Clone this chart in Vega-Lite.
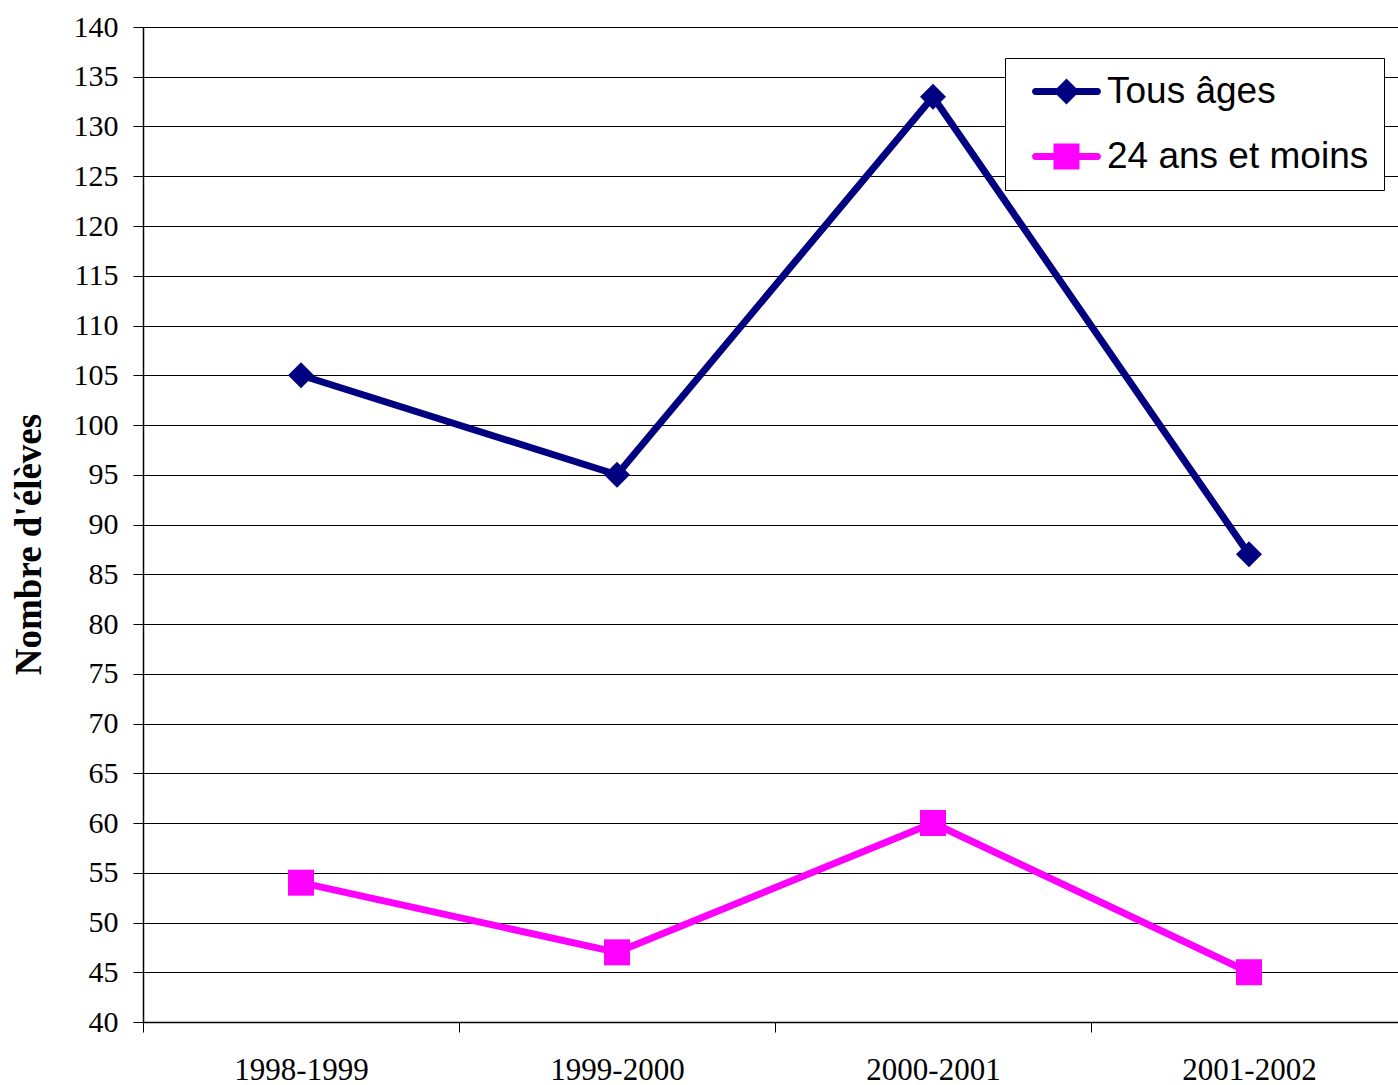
{
  "$schema": "https://vega.github.io/schema/vega-lite/v6.json",
  "autosize": {"type": "none"},
  "width": 1255,
  "height": 995,
  "padding": {"left": 143, "top": 27, "right": 0, "bottom": 63},
  "background": "white",
  "config": {"view": {"stroke": null}, "font": "Liberation Serif"},
  "data": {
    "values": [
      {"year": "1998-1999", "series": "Tous âges", "value": 105},
      {"year": "1999-2000", "series": "Tous âges", "value": 95},
      {"year": "2000-2001", "series": "Tous âges", "value": 133},
      {"year": "2001-2002", "series": "Tous âges", "value": 87},
      {"year": "1998-1999", "series": "24 ans et moins", "value": 54},
      {"year": "1999-2000", "series": "24 ans et moins", "value": 47},
      {"year": "2000-2001", "series": "24 ans et moins", "value": 60},
      {"year": "2001-2002", "series": "24 ans et moins", "value": 45}
    ]
  },
  "encoding": {
    "x": {
      "field": "year",
      "type": "nominal",
      "sort": null,
      "scale": {"type": "band", "paddingInner": 0, "paddingOuter": 0, "range": [0, 1264]},
      "axis": {
        "title": null,
        "labelAngle": 0,
        "labelFont": "Liberation Serif",
        "labelFontSize": 31,
        "labelColor": "black",
        "labelPadding": 23,
        "tickBand": "extent",
        "tickSize": 10,
        "tickColor": "black",
        "domainColor": "black",
        "domainWidth": 1.5,
        "grid": false
      }
    },
    "y": {
      "field": "value",
      "type": "quantitative",
      "scale": {"domain": [40, 140], "nice": false, "zero": false},
      "axis": {
        "title": "Nombre d'élèves",
        "titleFont": "Liberation Serif",
        "titleFontSize": 37,
        "titleFontWeight": "bold",
        "titleColor": "black",
        "titleAngle": -90,
        "titleBaseline": "alphabetic",
        "titleX": -103,
        "titleY": 517,
        "values": [40, 45, 50, 55, 60, 65, 70, 75, 80, 85, 90, 95, 100, 105, 110, 115, 120, 125, 130, 135, 140],
        "labelFont": "Liberation Serif",
        "labelFontSize": 30,
        "labelColor": "black",
        "labelPadding": 15,
        "tickSize": 10,
        "tickColor": "black",
        "domainColor": "black",
        "domainWidth": 1.5,
        "grid": true,
        "gridColor": "black",
        "gridWidth": 1
      }
    },
    "color": {
      "field": "series",
      "type": "nominal",
      "scale": {"domain": ["Tous âges", "24 ans et moins"], "range": ["#000080", "#FF00FF"]},
      "legend": {
        "title": null,
        "orient": "none",
        "legendX": 862,
        "legendY": 31,
        "padding": 15,
        "rowPadding": 27,
        "symbolSize": 1296,
        "symbolOffset": 28,
        "symbolStrokeWidth": 0,
        "labelOffset": 22,
        "labelLimit": 500,
        "labelFont": "Liberation Sans",
        "labelFontSize": 37,
        "labelColor": "black",
        "fillColor": "white",
        "strokeColor": "black",
        "encode": {
          "symbols": {
            "update": {
              "fill": {"scale": "color", "field": "value"},
              "stroke": {"value": "transparent"},
              "opacity": {"value": 1},
              "shape": [
                {"test": "datum.value === 'Tous âges'", "value": "M-1.722,-0.194L1.722,-0.194A0.194,0.194 0 0 1 1.722,0.194L-1.722,0.194A0.194,0.194 0 0 1 -1.722,-0.194ZM0,-0.722L0.722,0L0,0.722L-0.722,0Z"},
                {"value": "M-1.722,-0.194L1.722,-0.194A0.194,0.194 0 0 1 1.722,0.194L-1.722,0.194A0.194,0.194 0 0 1 -1.722,-0.194ZM-0.722,-0.722L0.722,-0.722L0.722,0.722L-0.722,0.722Z"}
              ]
            }
          }
        }
      }
    }
  },
  "layer": [
    {
      "mark": {"type": "line", "strokeWidth": 7, "strokeJoin": "round"},
      "encoding": {"detail": {"field": "series"}}
    },
    {
      "transform": [{"filter": "datum.series === 'Tous âges'"}],
      "mark": {"type": "point", "filled": true, "size": 676, "opacity": 1, "shape": "diamond"}
    },
    {
      "transform": [{"filter": "datum.series === '24 ans et moins'"}],
      "mark": {"type": "point", "filled": true, "size": 676, "opacity": 1, "shape": "square"}
    }
  ]
}
